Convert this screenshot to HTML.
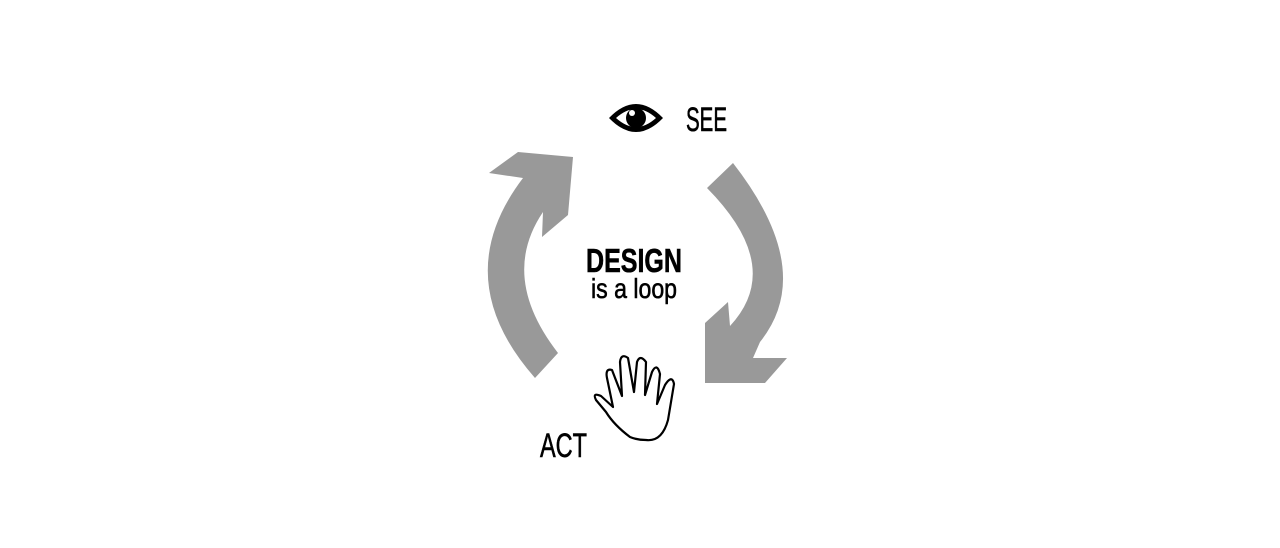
<!DOCTYPE html>
<html><head><meta charset="utf-8"><style>html,body{margin:0;padding:0;background:#fff;}svg{display:block}</style></head>
<body>
<svg width="1280" height="548" viewBox="0 0 1280 548" xmlns="http://www.w3.org/2000/svg">
<rect width="1280" height="548" fill="#fff"/>
<!-- left arrow -->
<path d="M535,378 Q447,278 523,178 L489,173 L518,152 L573,157 L568,215 L542,237 L543,212 Q499,277 558,353 Z" fill="#999"/>
<!-- right arrow -->
<path d="M733,163 Q817,271 760,342 L753,358 L787,358 L765,383 L705,383 L705,323 L728,302 L730,326 Q785,267 707,188 Z" fill="#999"/>
<!-- eye -->
<path d="M609,118 Q636,90 663,118 Q636,146 609,118 Z" fill="#000"/>
<path d="M616,118 Q636,100 656,118 Q636,136 616,118 Z" fill="#fff"/>
<circle cx="636" cy="118" r="10" fill="#000"/>
<circle cx="632" cy="113" r="3" fill="#fff"/>
<!-- hand -->
<path d="M630,437 Q614,425 606,412 L596,400 Q592,392 601,396 L613,407 L607,378 Q605,368 612,370 L622,396 L620,362 Q621,353 628,358 L634,392 L637,362 Q640,354 646,362 L645,395 L652,372 Q657,362 660,374 L657,404 L665,385 Q672,374 674,384 L668,420 Q662,442 646,440 Q637,440 630,437 Z" fill="#fff" stroke="#000" stroke-width="2.2" stroke-linejoin="round"/>
<g font-family="'Liberation Sans Narrow','Liberation Sans',sans-serif" fill="#000" stroke="#000" stroke-width="0.6">
<text x="686" y="131" font-size="34" textLength="41" lengthAdjust="spacingAndGlyphs">SEE</text>
<text x="586" y="272" font-size="33" font-weight="bold" textLength="96" lengthAdjust="spacingAndGlyphs">DESIGN</text>
<text x="591" y="298" font-size="28" textLength="86" lengthAdjust="spacingAndGlyphs">is a loop</text>
<text x="540" y="457" font-size="34" textLength="47" lengthAdjust="spacingAndGlyphs">ACT</text>
</g>
</svg>
</body></html>
